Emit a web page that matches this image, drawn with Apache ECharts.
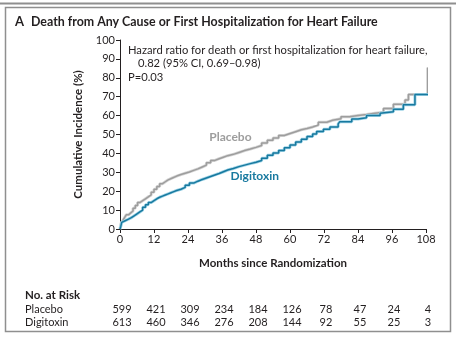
<!DOCTYPE html>
<html>
<head>
<meta charset="utf-8">
<script src="https://cdn.jsdelivr.net/npm/echarts@6/dist/echarts.min.js"></script>
<style>
  html, body { margin: 0; padding: 0; background: #fff; }
  #chart { width: 456px; height: 337px; }
</style>
</head>
<body>
<div id="chart"></div>
<script>
// Kaplan-Meier style cumulative incidence, months vs. percent
const placeboMonths = [0, 0.4, 1, 1.6, 2.2, 3, 3.8, 4.6, 5.4, 6.2, 7, 8, 9, 10, 11, 12, 13, 14, 15, 16, 17, 18.5, 20, 21.5, 23, 24.5, 26, 27.5, 29, 30.5, 32, 33.5, 35, 36.5, 38, 40, 42, 44, 46, 48, 50, 52, 54, 56, 58, 60, 62, 64, 66, 68, 70, 73, 75, 78, 81, 84, 87, 90, 93, 96.5, 100.6, 101.8, 108.6];
const placeboValues = [0, 3, 4.5, 6, 7.5, 8.5, 9.5, 11, 12.5, 14, 15, 16, 17, 18, 19.5, 21, 22.5, 24, 25, 26, 27, 28, 28.8, 29.5, 30.2, 31, 31.8, 32.8, 33.8, 35, 36.3, 37.2, 38, 38.8, 39.5, 40.5, 41.5, 42.3, 43.2, 44.2, 45.5, 47, 48.2, 49.5, 50.5, 51.5, 52.5, 53.2, 54, 55, 56.5, 57.5, 58.3, 59.4, 60.1, 60.6, 61.2, 61.8, 63.8, 66, 68.3, 71.2, 85.4];

const digitoxinMonths = [0, 0.3, 0.6, 1.2, 2, 3, 4, 5, 6, 7, 8, 9, 10, 11, 12, 13, 14, 15, 16, 17, 18, 19, 20, 21.5, 23, 24.5, 26, 27.5, 29, 30.5, 32, 33.5, 35, 36.5, 38, 40, 42, 44, 46, 48, 50, 52, 54, 56, 58, 60, 62, 64, 66, 68, 69.4, 71.8, 74.1, 77, 77.6, 81.8, 84, 87, 91.8, 92.4, 96.5, 100, 104.1, 109];
const digitoxinValues = [0, 1.5, 3.5, 4.5, 5.2, 6, 7, 8, 9, 10, 11.5, 12.8, 14, 15, 16, 16.8, 17.4, 18, 18.6, 19.2, 19.8, 20.4, 21, 22, 23.2, 24.3, 25.3, 26.2, 27, 27.8, 28.6, 29.4, 30.3, 31.2, 32, 33, 33.8, 34.6, 35.3, 36.2, 37.5, 39, 40.2, 41.5, 43, 44.5, 46, 47.5, 49, 50.2, 51.6, 52.8, 54, 55.6, 56.8, 58.2, 58.8, 60, 61.2, 62, 63.4, 65.8, 71.2, 71.2];

// Number at risk, one entry per x-axis tick
const riskMonths = [0, 12, 24, 36, 48, 60, 72, 84, 96, 108];
const placeboAtRisk = [599, 421, 309, 234, 184, 126, 78, 47, 24, 4];
const digitoxinAtRisk = [613, 460, 346, 276, 208, 144, 92, 55, 25, 3];

const FONT = 'Lato, "Open Sans", sans-serif';
const GRAY = '#9d9d9d';
const BLUE = '#17799f';
const TXT = '#231f20';

const pair = (xs, ys) => xs.map((x, i) => [x, ys[i]]);

const chart = echarts.init(document.getElementById('chart'), null, { renderer: 'canvas' });

function stepSeries(name, data, color, width, z) {
  return {
    name, type: 'line', step: 'end', data, showSymbol: false, symbol: 'none',
    clip: false, silent: true, z,
    lineStyle: { color, width }
  };
}

const option = {
  animation: false,
  backgroundColor: '#fff',
  grid: { left: 120, right: 30, top: 40, bottom: 108 },
  xAxis: {
    type: 'value', min: 0, max: 108, interval: 12,
    axisLine: { lineStyle: { color: TXT, width: 1 } },
    axisTick: { length: 4, lineStyle: { color: TXT } },
    axisLabel: { color: TXT, fontFamily: FONT, fontSize: 11, margin: 5 },
    splitLine: { show: false },
    name: 'Months since Randomization', nameLocation: 'middle', nameGap: 28,
    nameTextStyle: { color: TXT, fontFamily: FONT, fontSize: 11.5, fontWeight: 'bold' }
  },
  yAxis: {
    type: 'value', min: 0, max: 100, interval: 10,
    axisLine: { show: true, lineStyle: { color: TXT, width: 1 } },
    axisTick: { show: true, length: 4, lineStyle: { color: TXT } },
    axisLabel: { color: TXT, fontFamily: FONT, fontSize: 11, margin: 5 },
    splitLine: { show: false },
    name: 'Cumulative Incidence (%)', nameLocation: 'middle', nameGap: 36,
    nameTextStyle: { color: TXT, fontFamily: FONT, fontSize: 11.5, fontWeight: 'bold' }
  },
  series: [
    stepSeries('placeboHalo', pair(placeboMonths, placeboValues), '#d6d6d6', 3, 2),
    stepSeries('Placebo', pair(placeboMonths, placeboValues), GRAY, 1.5, 3),
    stepSeries('digitoxinHalo', pair(digitoxinMonths, digitoxinValues), '#9fd3e6', 3, 4),
    stepSeries('Digitoxin', pair(digitoxinMonths, digitoxinValues), BLUE, 1.5, 5)
  ]
};
chart.setOption(option);

// Texts and the risk table, positioned through the axis scales
const px = (m, v) => chart.convertToPixel({ gridIndex: 0 }, [m, v]);
const graphics = [];

// panel frame
graphics.push({ type: 'line', shape: { x1: 0, y1: 3.5, x2: 456, y2: 3.5 }, style: { stroke: '#8f8f8f', lineWidth: 2 } });
graphics.push({ type: 'rect', shape: { x: 5.5, y: 7.5, width: 445, height: 324 }, style: { fill: 'none', stroke: '#8f8f8f', lineWidth: 1.5 } });

graphics.push({ type: 'text', x: 15, y: 22, style: { text: 'A', font: 'bold 13px ' + FONT, fill: TXT, textVerticalAlign: 'middle' } });
graphics.push({ type: 'text', x: 31, y: 22, style: { text: 'Death from Any Cause or First Hospitalization for Heart Failure', font: 'bold 12.4px ' + FONT, fill: TXT, textVerticalAlign: 'middle' } });

const annoFont = '11.2px ' + FONT;
graphics.push({ type: 'text', x: 128, y: 50, style: { text: 'Hazard ratio for death or first hospitalization for heart failure,', font: annoFont, fill: TXT, textVerticalAlign: 'middle' } });
graphics.push({ type: 'text', x: 138, y: 63, style: { text: '0.82 (95% CI, 0.69\u20130.98)', font: annoFont, fill: TXT, textVerticalAlign: 'middle' } });
graphics.push({ type: 'text', x: 128, y: 77, style: { text: 'P=0.03', font: annoFont, fill: TXT, textVerticalAlign: 'middle' } });

const pl = px(31.5, 48.5);
graphics.push({ type: 'text', x: pl[0], y: pl[1], style: { text: 'Placebo', font: 'bold 12px ' + FONT, fill: GRAY, textVerticalAlign: 'middle' } });
const dl = px(39, 28);
graphics.push({ type: 'text', x: dl[0], y: dl[1], style: { text: 'Digitoxin', font: 'bold 12px ' + FONT, fill: BLUE, textVerticalAlign: 'middle' } });

graphics.push({ type: 'text', x: 25, y: 295, style: { text: 'No. at Risk', font: 'bold 11.5px ' + FONT, fill: TXT, textVerticalAlign: 'middle' } });
graphics.push({ type: 'text', x: 25, y: 309, style: { text: 'Placebo', font: '11px ' + FONT, fill: TXT, textVerticalAlign: 'middle' } });
graphics.push({ type: 'text', x: 25, y: 322, style: { text: 'Digitoxin', font: '11px ' + FONT, fill: TXT, textVerticalAlign: 'middle' } });
riskMonths.forEach((m, i) => {
  const x = px(m, 0)[0] + 2;
  graphics.push({ type: 'text', x, y: 309, style: { text: String(placeboAtRisk[i]), font: '11px ' + FONT, fill: TXT, textAlign: 'center', textVerticalAlign: 'middle' } });
  graphics.push({ type: 'text', x, y: 322, style: { text: String(digitoxinAtRisk[i]), font: '11px ' + FONT, fill: TXT, textAlign: 'center', textVerticalAlign: 'middle' } });
});

chart.setOption({ graphic: graphics });
</script>
</body>
</html>
